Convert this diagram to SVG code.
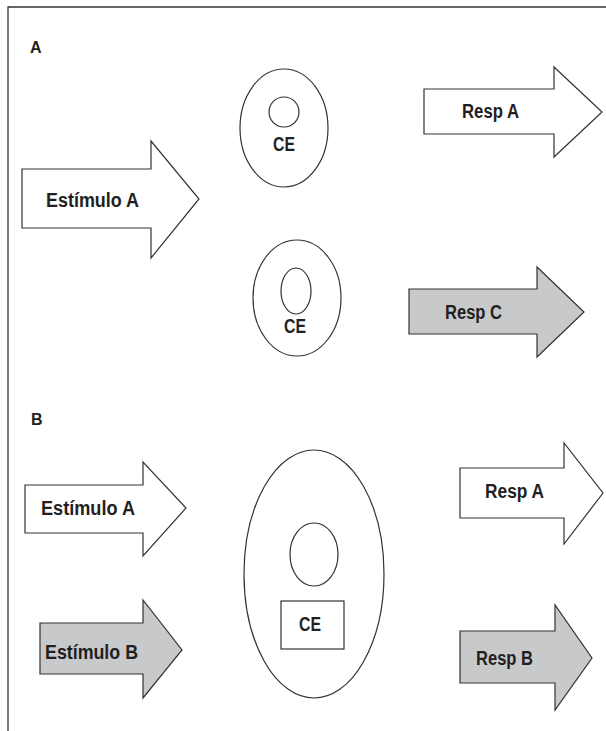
<svg xmlns="http://www.w3.org/2000/svg" width="606" height="731" viewBox="0 0 606 731">
<style>
.bg{fill:#fff}
.frame{fill:none;stroke:#333;stroke-width:1.3}
.w{fill:#fff;stroke:#333;stroke-width:1.2;stroke-linejoin:miter}
.g{fill:#c8c9cb;stroke:#333;stroke-width:1.2;stroke-linejoin:miter}
.o{fill:none;stroke:#333;stroke-width:1.2}
.t{font-family:"Liberation Sans",Arial,sans-serif;font-weight:bold;font-size:20px;fill:#231f20}
.h{font-family:"Liberation Sans",Arial,sans-serif;font-weight:bold;font-size:16px;fill:#231f20}
</style>
<rect class="bg" x="0" y="0" width="606" height="731"/>
<path class="frame" d="M8,731 V7 H606"/>
<text class="h" x="30" y="53">A</text>
<text class="h" x="31" y="425">B</text>
<g id="estimulo-a-top">
<polygon class="w" points="22,169 151,169 151,141 199,199 151,258 151,228 22,228"/>
<text class="t" x="46" y="207" textLength="93" lengthAdjust="spacingAndGlyphs">Estímulo A</text>
</g>
<g id="cell-a1">
<ellipse class="o" cx="284" cy="128" rx="44" ry="59"/>
<circle class="o" cx="284" cy="112" r="15"/>
<text class="t" x="284" y="151" text-anchor="middle" font-size="18" textLength="22" lengthAdjust="spacingAndGlyphs">CE</text>
</g>
<g id="cell-a2">
<ellipse class="o" cx="297" cy="298" rx="44" ry="58"/>
<ellipse class="o" cx="296" cy="291" rx="15" ry="23"/>
<text class="t" x="295" y="333" text-anchor="middle" font-size="18" textLength="22" lengthAdjust="spacingAndGlyphs">CE</text>
</g>
<g id="resp-a-top">
<polygon class="w" points="424,89 554,89 554,67 602,112 554,157 554,134 424,134"/>
<text class="t" x="462" y="118" textLength="57" lengthAdjust="spacingAndGlyphs">Resp A</text>
</g>
<g id="resp-c">
<polygon class="g" points="409,289 537,289 537,267 584,312 537,357 537,334 409,334"/>
<text class="t" x="445" y="319" textLength="57" lengthAdjust="spacingAndGlyphs">Resp C</text>
</g>
<g id="estimulo-a-bottom">
<polygon class="w" points="25,485 143,485 143,462 186,508 143,556 143,533 25,533"/>
<text class="t" x="41" y="515" textLength="94" lengthAdjust="spacingAndGlyphs">Estímulo A</text>
</g>
<g id="estimulo-b">
<polygon class="g" points="40,623 143,623 143,600 182,650 143,698 143,674 40,674"/>
<text class="t" x="45" y="659" textLength="93" lengthAdjust="spacingAndGlyphs">Estímulo B</text>
</g>
<g id="cell-b">
<ellipse class="o" cx="314" cy="574" rx="70" ry="124"/>
<ellipse class="o" cx="314" cy="554.5" rx="24" ry="31.5"/>
<rect class="o" x="281" y="601" width="63" height="48"/>
<text class="t" x="310" y="631" text-anchor="middle" font-size="18" textLength="22" lengthAdjust="spacingAndGlyphs">CE</text>
</g>
<g id="resp-a-bottom">
<polygon class="w" points="460,468 564,468 564,443 603,493 564,544 564,518 460,518"/>
<text class="t" x="485" y="498" textLength="59" lengthAdjust="spacingAndGlyphs">Resp A</text>
</g>
<g id="resp-b">
<polygon class="g" points="460,631 555,631 555,605 592,658 555,710 555,683 460,683"/>
<text class="t" x="476" y="665" textLength="57" lengthAdjust="spacingAndGlyphs">Resp B</text>
</g>
<g id="connectors"></g>
</svg>
